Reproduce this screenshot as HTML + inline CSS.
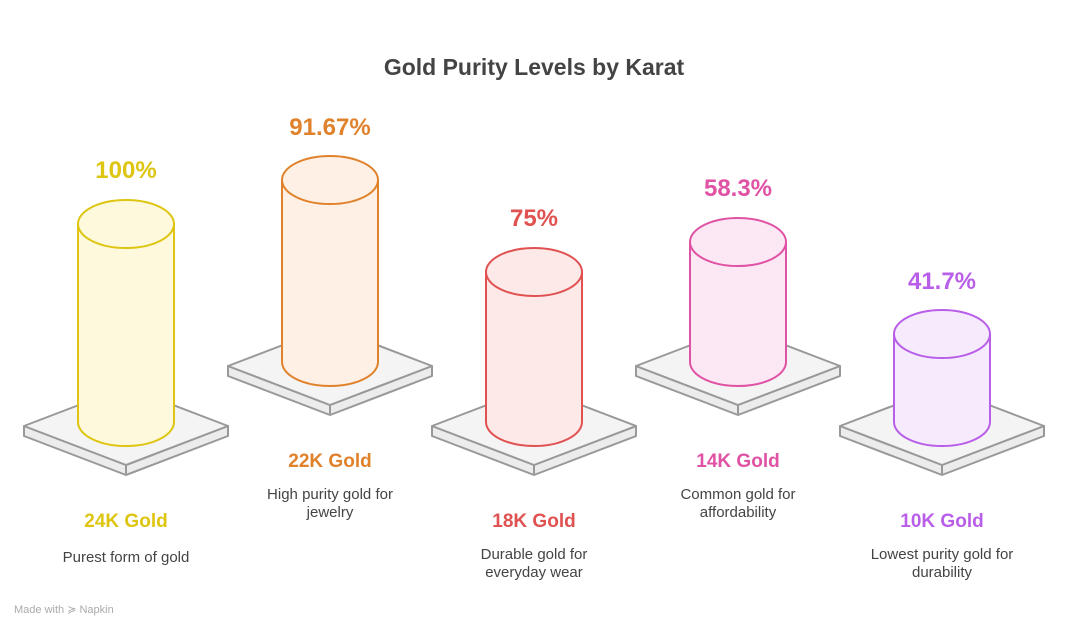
<!DOCTYPE html>
<html><head><style>
body{margin:0;background:#fff;}
svg{display:block;font-family:"Liberation Sans",sans-serif;}
</style></head><body>
<svg width="1068" height="629" viewBox="0 0 1068 629" xmlns="http://www.w3.org/2000/svg">
<text x="534" y="75" text-anchor="middle" font-size="23" font-weight="bold" fill="#444">Gold Purity Levels by Karat</text>
<g stroke="#999" stroke-width="2" stroke-linejoin="round">
<polygon points="24,426 126,465 228,426 228,436 126,475 24,436" fill="#ececec"/>
<polygon points="24,426 126,387 228,426 126,465" fill="#f4f4f4"/>
<line x1="126" y1="465" x2="126" y2="475"/>
<polygon points="228,366 330,405 432,366 432,376 330,415 228,376" fill="#ececec"/>
<polygon points="228,366 330,327 432,366 330,405" fill="#f4f4f4"/>
<line x1="330" y1="405" x2="330" y2="415"/>
<polygon points="432,426 534,465 636,426 636,436 534,475 432,436" fill="#ececec"/>
<polygon points="432,426 534,387 636,426 534,465" fill="#f4f4f4"/>
<line x1="534" y1="465" x2="534" y2="475"/>
<polygon points="636,366 738,405 840,366 840,376 738,415 636,376" fill="#ececec"/>
<polygon points="636,366 738,327 840,366 738,405" fill="#f4f4f4"/>
<line x1="738" y1="405" x2="738" y2="415"/>
<polygon points="840,426 942,465 1044,426 1044,436 942,475 840,436" fill="#ececec"/>
<polygon points="840,426 942,387 1044,426 942,465" fill="#f4f4f4"/>
<line x1="942" y1="465" x2="942" y2="475"/>
</g>
<g stroke-width="2">
<path d="M78,224 L78,422 A48,24 0 0 0 174,422 L174,224 Z" fill="#fef9dc" stroke="#ddc511"/>
<ellipse cx="126" cy="224" rx="48" ry="24" fill="#fef9dc" stroke="#ddc511"/>
<path d="M282,180 L282,362 A48,24 0 0 0 378,362 L378,180 Z" fill="#fef0e4" stroke="#e0822c"/>
<ellipse cx="330" cy="180" rx="48" ry="24" fill="#fef0e4" stroke="#e0822c"/>
<path d="M486,272 L486,422 A48,24 0 0 0 582,422 L582,272 Z" fill="#fde9e8" stroke="#e05252"/>
<ellipse cx="534" cy="272" rx="48" ry="24" fill="#fde9e8" stroke="#e05252"/>
<path d="M690,242 L690,362 A48,24 0 0 0 786,362 L786,242 Z" fill="#fce8f5" stroke="#e052a4"/>
<ellipse cx="738" cy="242" rx="48" ry="24" fill="#fce8f5" stroke="#e052a4"/>
<path d="M894,334 L894,422 A48,24 0 0 0 990,422 L990,334 Z" fill="#f6ebfd" stroke="#b95ee8"/>
<ellipse cx="942" cy="334" rx="48" ry="24" fill="#f6ebfd" stroke="#b95ee8"/>
</g>
<g text-anchor="middle" font-size="24" font-weight="bold">
<text x="126" y="178" fill="#ddc511">100%</text>
<text x="330" y="135" fill="#e0822c">91.67%</text>
<text x="534" y="226" fill="#e05252">75%</text>
<text x="738" y="196" fill="#e052a4">58.3%</text>
<text x="942" y="289" fill="#b95ee8">41.7%</text>
</g>
<g text-anchor="middle" font-size="19" font-weight="bold">
<text x="126" y="527" fill="#ddc511">24K Gold</text>
<text x="330" y="467" fill="#e0822c">22K Gold</text>
<text x="534" y="527" fill="#e05252">18K Gold</text>
<text x="738" y="467" fill="#e052a4">14K Gold</text>
<text x="942" y="527" fill="#b95ee8">10K Gold</text>
</g>
<g text-anchor="middle" font-size="15" fill="#444">
<text x="126" y="562">Purest form of gold</text>
<text x="330" y="499">High purity gold for</text>
<text x="330" y="517">jewelry</text>
<text x="534" y="559">Durable gold for</text>
<text x="534" y="577">everyday wear</text>
<text x="738" y="499">Common gold for</text>
<text x="738" y="517">affordability</text>
<text x="942" y="559">Lowest purity gold for</text>
<text x="942" y="577">durability</text>
</g>
<text x="14" y="613" font-size="11" fill="#aaa">Made with ≽ Napkin</text>
</svg>
</body></html>
